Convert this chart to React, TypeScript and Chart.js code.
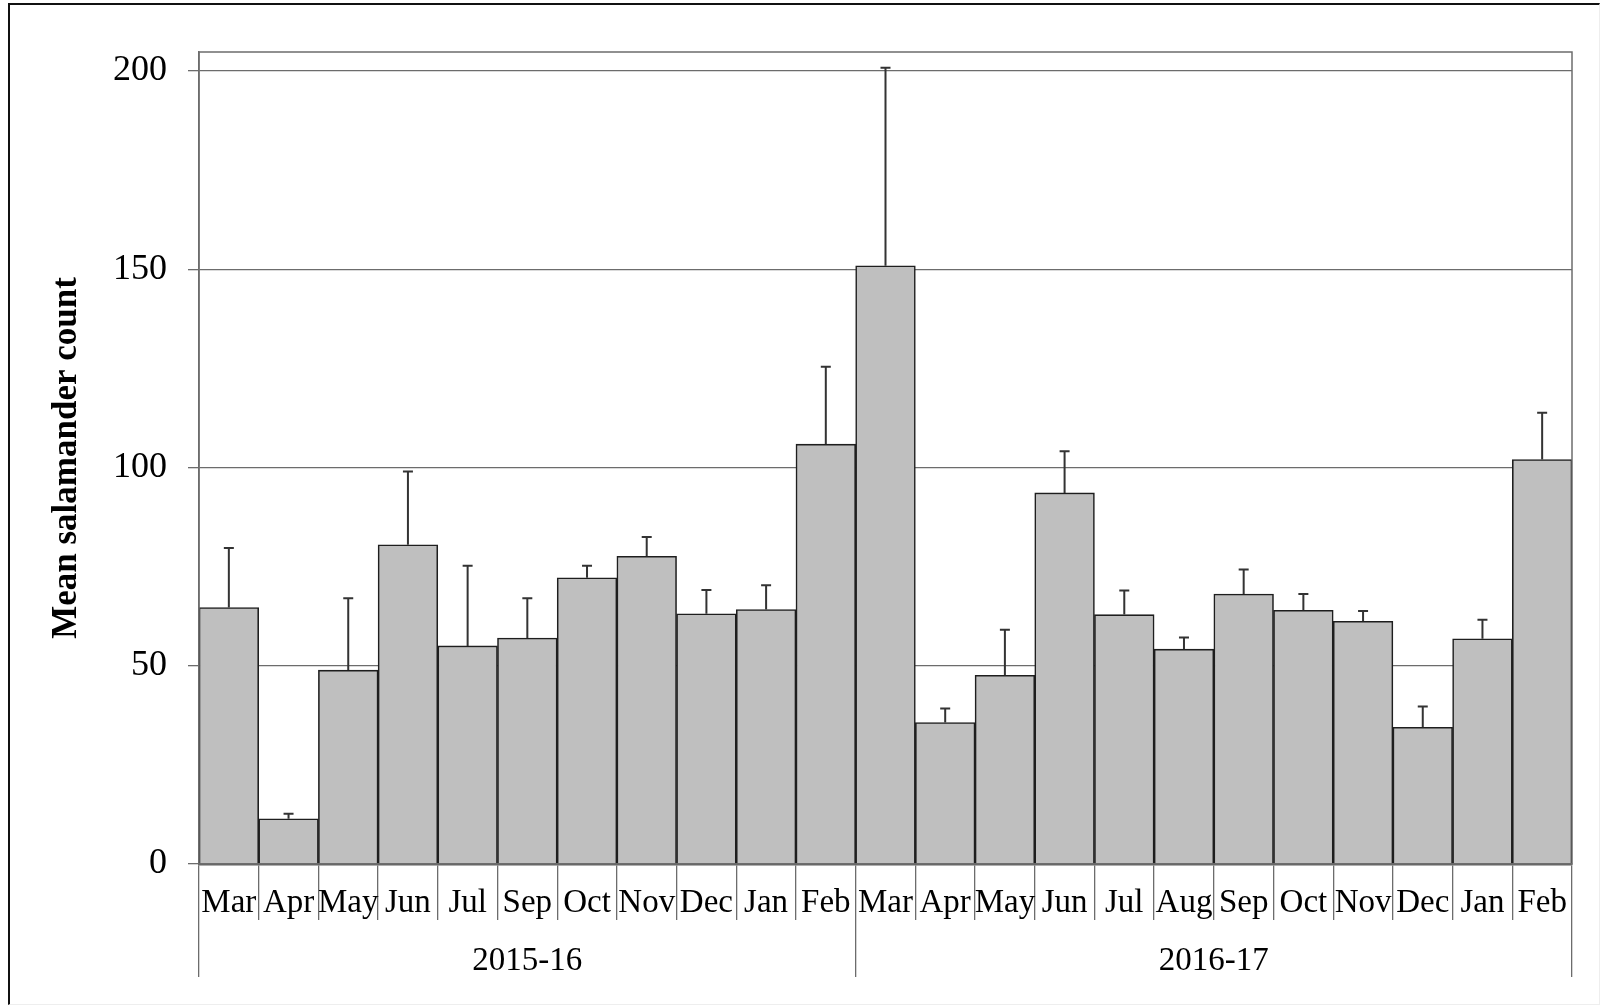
import React, { useEffect, useRef } from 'react';
import { Chart, registerables } from 'chart.js';

Chart.register(...registerables);

// ---- data ----
const months = ['Mar', 'Apr', 'May', 'Jun', 'Jul', 'Sep', 'Oct', 'Nov', 'Dec', 'Jan', 'Feb',
  'Mar', 'Apr', 'May', 'Jun', 'Jul', 'Aug', 'Sep', 'Oct', 'Nov', 'Dec', 'Jan', 'Feb'];
const seasons = ['2015-16', '2016-17'];
const seasonLengths = [11, 12];
const meanCounts = [64.7, 11.4, 48.9, 80.5, 55.0, 57.0, 72.2, 77.6, 63.1, 64.2, 105.9,
  150.9, 35.7, 47.6, 93.6, 62.9, 54.2, 68.1, 64.0, 61.2, 34.5, 56.8, 102.0];
const upperErrors = [15.0, 1.3, 18.1, 18.5, 20.2, 10.0, 3.0, 4.9, 6.0, 6.1, 19.5,
  49.9, 3.5, 11.5, 10.5, 6.1, 2.9, 6.2, 4.1, 2.6, 5.2, 4.8, 11.8];
const yTickValues = [0, 50, 100, 150, 200];
const yTitle = 'Mean salamander count';

const FONT = "'Liberation Serif', 'Times New Roman', Times, serif";
const GRID = '#6c6c6c';

// season boundaries / centres in category index units
const boundaries: number[] = [-0.5];
const centres: number[] = [];
{
  let start = -0.5;
  seasonLengths.forEach((n) => {
    centres.push(start + n / 2);
    start += n;
    boundaries.push(start);
  });
}

const errorBarPlugin = {
  id: 'errorBars',
  afterDatasetsDraw(chart: any) {
    const { ctx, chartArea } = chart;
    const yScale = chart.scales.y;
    const meta = chart.getDatasetMeta(0);
    // plot area border
    ctx.save();
    ctx.strokeStyle = GRID;
    ctx.lineWidth = 1.5;
    ctx.strokeRect(chartArea.left, chartArea.top, chartArea.right - chartArea.left, chartArea.bottom - chartArea.top);
    ctx.restore();

    ctx.save();
    ctx.strokeStyle = '#333333';
    ctx.lineWidth = 2;
    meta.data.forEach((el: any, i: number) => {
      const x = el.x;
      const yTop = yScale.getPixelForValue(meanCounts[i]);
      const yErr = yScale.getPixelForValue(meanCounts[i] + upperErrors[i]);
      ctx.beginPath();
      ctx.moveTo(x, yTop);
      ctx.lineTo(x, yErr);
      ctx.moveTo(x - 5, yErr);
      ctx.lineTo(x + 5, yErr);
      ctx.stroke();
    });
    ctx.restore();
  },
};

export default function App() {
  const ref = useRef<HTMLCanvasElement | null>(null);

  useEffect(() => {
    if (!ref.current) return;
    const chart = new Chart(ref.current, {
      type: 'bar',
      data: {
        labels: months,
        datasets: [
          {
            data: meanCounts,
            backgroundColor: '#bfbfbf',
            borderColor: '#1e1e1e',
            borderWidth: 1.6,
            categoryPercentage: 1,
            barPercentage: 1,
            xAxisID: 'x',
            yAxisID: 'y',
          },
        ],
      },
      options: {
        responsive: false,
        animation: false,
        events: [],
        layout: { padding: { left: 0, right: 28, top: 52, bottom: 0 } },
        plugins: {
          legend: { display: false },
          tooltip: { enabled: false },
          title: { display: false },
        },
        scales: {
          y: {
            type: 'linear',
            position: 'left',
            min: 0,
            max: 204.8,
            afterBuildTicks: (s: any) => {
              s.ticks = yTickValues.map((v) => ({ value: v }));
            },
            afterFit: (s: any) => {
              s.width = 199;
            },
            ticks: {
              includeBounds: false,
              padding: 21,
              color: '#000',
              font: { family: FONT, size: 36 },
            },
            grid: { color: GRID, lineWidth: 1.3, tickLength: 11 },
            border: { color: GRID, width: 1.5 },
            title: {
              display: true,
              text: yTitle,
              color: '#000',
              font: { family: FONT, size: 35, weight: 'bold' },
              padding: { top: 46, bottom: 0 },
            },
          },
          x: {
            type: 'category',
            position: 'bottom',
            weight: 0,
            offset: true,
            afterFit: (s: any) => {
              s.height = 56;
            },
            grid: { offset: true, drawOnChartArea: false, tickLength: 56, color: GRID, lineWidth: 1.3 },
            border: { color: '#5e5e5e', width: 2.5 },
            ticks: {
              autoSkip: false,
              maxRotation: 0,
              minRotation: 0,
              padding: -36,
              color: '#000',
              font: { family: FONT, size: 33 },
            },
          },
          x2: {
            type: 'linear',
            position: 'bottom',
            weight: 1,
            min: -0.5,
            max: months.length - 0.5,
            offset: false,
            afterBuildTicks: (s: any) => {
              const vals = [...boundaries, ...centres].sort((a, b) => a - b);
              s.ticks = vals.map((v) => ({ value: v }));
            },
            afterFit: (s: any) => {
              s.height = 88;
            },
            grid: {
              offset: false,
              drawOnChartArea: false,
              tickLength: 57,
              lineWidth: 1.3,
              color: (c: any) =>
                c.tick && boundaries.includes(c.tick.value) ? GRID : 'rgba(0,0,0,0)',
            },
            border: { display: false },
            ticks: {
              autoSkip: false,
              maxRotation: 0,
              minRotation: 0,
              padding: -35,
              color: '#000',
              font: { family: FONT, size: 33 },
              callback: (v: any) => {
                const idx = centres.indexOf(Number(v));
                return idx >= 0 ? seasons[idx] : '';
              },
            },
          },
        },
      },
      plugins: [errorBarPlugin],
    } as any);
    return () => chart.destroy();
  }, []);

  return (
    <div style={{ position: 'absolute', left: 0, top: 0, width: 1600, height: 1008, background: '#fff' }}>
      <canvas ref={ref} width={1600} height={1008} style={{ display: 'block', width: 1600, height: 1008 }} />
      <div
        style={{
          position: 'absolute',
          left: 8,
          top: 3,
          width: 1592,
          height: 1002,
          borderLeft: '2px solid #111',
          borderTop: '2px solid #111',
          borderRight: '1px solid #eeeeee',
          borderBottom: '1px solid #eeeeee',
          boxSizing: 'border-box',
          pointerEvents: 'none',
        }}
      />
    </div>
  );
}
